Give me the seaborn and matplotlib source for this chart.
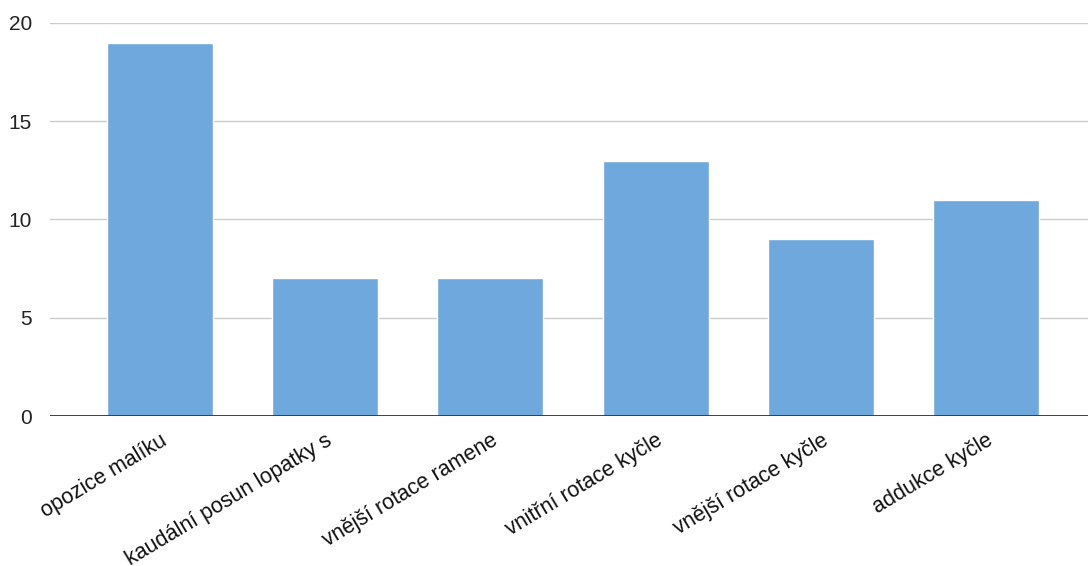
import matplotlib
matplotlib.use("Agg")
import matplotlib.pyplot as plt
import seaborn as sns
import pandas as pd

categories = ["opozice malíku", "kaudální posun lopatky s", "vnější rotace ramene",
              "vnitřní rotace kyčle", "vnější rotace kyčle", "addukce kyčle"]
counts = [19, 7, 7, 13, 9, 11]
y_ticks = [0, 5, 10, 15, 20]

df = pd.DataFrame({"kategorie": categories, "pocet": counts})

sns.set_theme(style="white")
plt.rcParams["font.family"] = ["Liberation Sans", "DejaVu Sans"]

fig = plt.figure(figsize=(10.88, 5.66), dpi=100)
ax = fig.add_axes([50 / 1088, 1 - 416 / 566, 1 - 50 / 1088, (416 - 23) / 566])

sns.barplot(data=df, x="kategorie", y="pocet", color="#6fa8dc", width=0.64,
            saturation=1, ax=ax, zorder=3)

ax.set_ylim(0, 20)
ax.set_xlim(-0.663, 5.615)
ax.set_yticks(y_ticks)
ax.set_yticklabels([str(t) for t in y_ticks], fontsize=15, color="#222222")
ax.yaxis.grid(True, color="#cccccc", linewidth=1)
ax.set_axisbelow(True)
ax.axhline(0, color="#333333", linewidth=1.3, zorder=4)

for s in ax.spines.values():
    s.set_visible(False)
ax.tick_params(axis="both", length=0)
ax.tick_params(axis="y", pad=13)
ax.set_xlabel("")
ax.set_ylabel("")
plt.setp(ax.get_xticklabels(), rotation=31, ha="right", rotation_mode="anchor",
         fontsize=15.5, color="#111111")
ax.tick_params(axis="x", pad=10)

fig.savefig("out.png", dpi=100)
